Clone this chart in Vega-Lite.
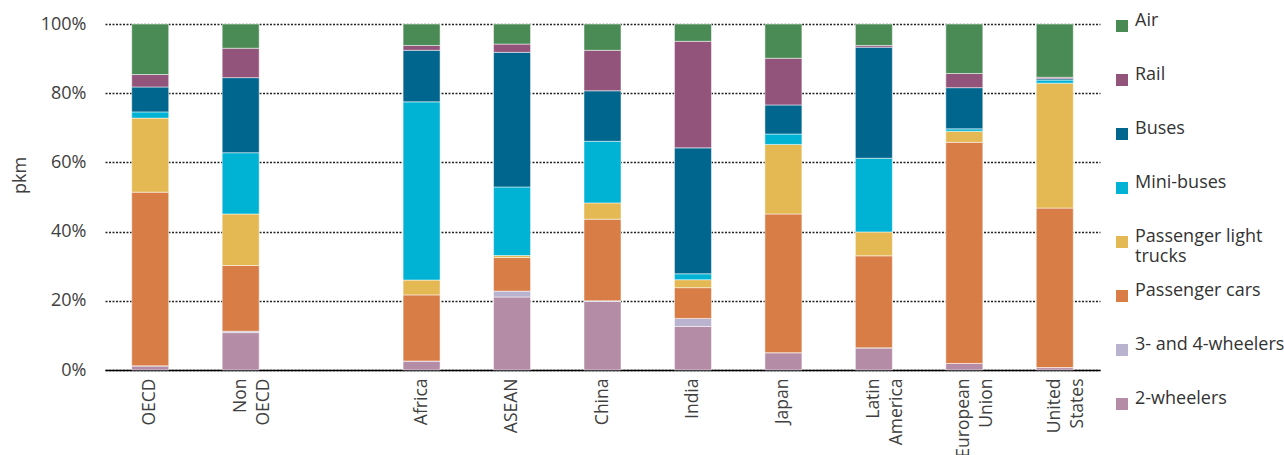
{
  "$schema": "https://vega.github.io/schema/vega-lite/v6.json",
  "width": 995,
  "height": 346,
  "autosize": {"type": "none"},
  "padding": {"left": 105, "top": 24, "right": 184, "bottom": 85},
  "background": "white",
  "datasets": {
    "modes": [
      {"mode": "2-wheelers", "rank": 0},
      {"mode": "3- and 4-wheelers", "rank": 1},
      {"mode": "Passenger cars", "rank": 2},
      {"mode": "Passenger light trucks", "rank": 3},
      {"mode": "Mini-buses", "rank": 4},
      {"mode": "Buses", "rank": 5},
      {"mode": "Rail", "rank": 6},
      {"mode": "Air", "rank": 7}
    ],
    "shares": [
      {"region": "OECD", "mode": "2-wheelers", "share": 1.2},
      {"region": "OECD", "mode": "3- and 4-wheelers", "share": 0},
      {"region": "OECD", "mode": "Passenger cars", "share": 50.2},
      {"region": "OECD", "mode": "Passenger light trucks", "share": 21.4},
      {"region": "OECD", "mode": "Mini-buses", "share": 1.8},
      {"region": "OECD", "mode": "Buses", "share": 7.2},
      {"region": "OECD", "mode": "Rail", "share": 3.6},
      {"region": "OECD", "mode": "Air", "share": 14.6},
      {"region": "Non OECD", "mode": "2-wheelers", "share": 10.8},
      {"region": "Non OECD", "mode": "3- and 4-wheelers", "share": 0.4},
      {"region": "Non OECD", "mode": "Passenger cars", "share": 19.0},
      {"region": "Non OECD", "mode": "Passenger light trucks", "share": 14.9},
      {"region": "Non OECD", "mode": "Mini-buses", "share": 17.7},
      {"region": "Non OECD", "mode": "Buses", "share": 21.7},
      {"region": "Non OECD", "mode": "Rail", "share": 8.5},
      {"region": "Non OECD", "mode": "Air", "share": 7.0},
      {"region": "Africa", "mode": "2-wheelers", "share": 2.6},
      {"region": "Africa", "mode": "3- and 4-wheelers", "share": 0},
      {"region": "Africa", "mode": "Passenger cars", "share": 19.1},
      {"region": "Africa", "mode": "Passenger light trucks", "share": 4.3},
      {"region": "Africa", "mode": "Mini-buses", "share": 51.5},
      {"region": "Africa", "mode": "Buses", "share": 14.9},
      {"region": "Africa", "mode": "Rail", "share": 1.4},
      {"region": "Africa", "mode": "Air", "share": 6.2},
      {"region": "ASEAN", "mode": "2-wheelers", "share": 21.1},
      {"region": "ASEAN", "mode": "3- and 4-wheelers", "share": 1.7},
      {"region": "ASEAN", "mode": "Passenger cars", "share": 9.7},
      {"region": "ASEAN", "mode": "Passenger light trucks", "share": 0.6},
      {"region": "ASEAN", "mode": "Mini-buses", "share": 19.8},
      {"region": "ASEAN", "mode": "Buses", "share": 38.9},
      {"region": "ASEAN", "mode": "Rail", "share": 2.4},
      {"region": "ASEAN", "mode": "Air", "share": 5.8},
      {"region": "China", "mode": "2-wheelers", "share": 19.8},
      {"region": "China", "mode": "3- and 4-wheelers", "share": 0.2},
      {"region": "China", "mode": "Passenger cars", "share": 23.6},
      {"region": "China", "mode": "Passenger light trucks", "share": 4.7},
      {"region": "China", "mode": "Mini-buses", "share": 17.8},
      {"region": "China", "mode": "Buses", "share": 14.6},
      {"region": "China", "mode": "Rail", "share": 11.7},
      {"region": "China", "mode": "Air", "share": 7.6},
      {"region": "India", "mode": "2-wheelers", "share": 12.6},
      {"region": "India", "mode": "3- and 4-wheelers", "share": 2.3},
      {"region": "India", "mode": "Passenger cars", "share": 8.9},
      {"region": "India", "mode": "Passenger light trucks", "share": 2.3},
      {"region": "India", "mode": "Mini-buses", "share": 1.7},
      {"region": "India", "mode": "Buses", "share": 36.4},
      {"region": "India", "mode": "Rail", "share": 30.8},
      {"region": "India", "mode": "Air", "share": 5.0},
      {"region": "Japan", "mode": "2-wheelers", "share": 5.0},
      {"region": "Japan", "mode": "3- and 4-wheelers", "share": 0},
      {"region": "Japan", "mode": "Passenger cars", "share": 40.1},
      {"region": "Japan", "mode": "Passenger light trucks", "share": 20.1},
      {"region": "Japan", "mode": "Mini-buses", "share": 3.0},
      {"region": "Japan", "mode": "Buses", "share": 8.4},
      {"region": "Japan", "mode": "Rail", "share": 13.5},
      {"region": "Japan", "mode": "Air", "share": 9.9},
      {"region": "Latin America", "mode": "2-wheelers", "share": 6.4},
      {"region": "Latin America", "mode": "3- and 4-wheelers", "share": 0},
      {"region": "Latin America", "mode": "Passenger cars", "share": 26.6},
      {"region": "Latin America", "mode": "Passenger light trucks", "share": 6.9},
      {"region": "Latin America", "mode": "Mini-buses", "share": 21.3},
      {"region": "Latin America", "mode": "Buses", "share": 32.1},
      {"region": "Latin America", "mode": "Rail", "share": 0.5},
      {"region": "Latin America", "mode": "Air", "share": 6.2},
      {"region": "European Union", "mode": "2-wheelers", "share": 1.9},
      {"region": "European Union", "mode": "3- and 4-wheelers", "share": 0},
      {"region": "European Union", "mode": "Passenger cars", "share": 63.9},
      {"region": "European Union", "mode": "Passenger light trucks", "share": 3.2},
      {"region": "European Union", "mode": "Mini-buses", "share": 0.7},
      {"region": "European Union", "mode": "Buses", "share": 11.9},
      {"region": "European Union", "mode": "Rail", "share": 4.1},
      {"region": "European Union", "mode": "Air", "share": 14.3},
      {"region": "United States", "mode": "2-wheelers", "share": 0.7},
      {"region": "United States", "mode": "3- and 4-wheelers", "share": 0},
      {"region": "United States", "mode": "Passenger cars", "share": 46.1},
      {"region": "United States", "mode": "Passenger light trucks", "share": 36.1},
      {"region": "United States", "mode": "Mini-buses", "share": 0.9},
      {"region": "United States", "mode": "Buses", "share": 0.4},
      {"region": "United States", "mode": "Rail", "share": 0.4},
      {"region": "United States", "mode": "Air", "share": 15.4}
    ]
  },
  "data": {"name": "shares"},
  "transform": [
    {"lookup": "mode", "from": {"data": {"name": "modes"}, "key": "mode", "fields": ["rank"]}}
  ],
  "mark": {"type": "bar", "width": 37, "stroke": "white", "strokeWidth": 0.5},
  "encoding": {
    "x": {
      "field": "region",
      "type": "nominal",
      "sort": null,
      "scale": {
        "domain": ["OECD", "Non OECD", " ", "Africa", "ASEAN", "China", "India", "Japan", "Latin America", "European Union", "United States"],
        "paddingInner": 0,
        "paddingOuter": 0
      },
      "axis": {
        "title": null,
        "labelAngle": -90,
        "labelAlign": "right",
        "labelBaseline": "middle",
        "labelPadding": 8,
        "labelFontSize": 17.5,
        "labelColor": "#404040",
        "labelLineHeight": 23,
        "labelExpr": "split(datum.label, ' ')",
        "ticks": false,
        "domainColor": "#000000",
        "domainWidth": 1.5
      }
    },
    "y": {
      "field": "share",
      "type": "quantitative",
      "stack": "normalize",
      "axis": {
        "title": "pkm",
        "titleFontSize": 18,
        "titleFontWeight": "normal",
        "titleColor": "#404040",
        "titleX": -85,
        "titleY": 151,
        "titleAngle": -90,
        "titleAlign": "center",
        "titleBaseline": "middle",
        "values": [0, 0.2, 0.4, 0.6, 0.8, 1],
        "format": ".0%",
        "labelFontSize": 18,
        "labelColor": "#404040",
        "labelPadding": 19,
        "ticks": false,
        "domain": false,
        "grid": true,
        "gridColor": "#222222",
        "gridDash": [2, 1.5],
        "gridWidth": 1.5
      }
    },
    "color": {
      "field": "mode",
      "type": "nominal",
      "scale": {
        "domain": ["Air", "Rail", "Buses", "Mini-buses", "Passenger light trucks", "Passenger cars", "3- and 4-wheelers", "2-wheelers"],
        "range": ["#4a8a55", "#93547c", "#00668e", "#00b3d4", "#e4b853", "#d97d47", "#b9b3cf", "#b48ca6"]
      },
      "legend": {
        "title": null,
        "orient": "none",
        "legendX": 1008,
        "legendY": -7,
        "gridAlign": "all",
        "symbolType": "square",
        "symbolSize": 144,
        "symbolStrokeWidth": 0,
        "symbolOpacity": 1,
        "labelFontSize": 18,
        "labelColor": "#333333",
        "labelOffset": 4,
        "labelLimit": 200,
        "labelBaseline": "alphabetic",
        "rowPadding": 16,
        "labelExpr": "datum.label == 'Passenger light trucks' ? ['Passenger light', 'trucks'] : datum.label"
      }
    },
    "order": {"field": "rank", "type": "quantitative"}
  },
  "config": {
    "view": {"stroke": null},
    "font": "Open Sans"
  }
}
